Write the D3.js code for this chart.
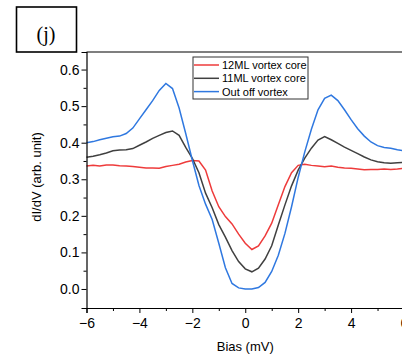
<!DOCTYPE html>
<html>
<head>
<meta charset="utf-8">
<script src="https://cdn.jsdelivr.net/npm/d3@7"></script>
<style>
    body { margin: 0; background: #fff; }
    text { font-family: "Liberation Sans", Arial, sans-serif; }
</style>
</head>
<body>
<script>
// bias (mV) grid
var bias = [-6, -5.75, -5.5, -5.25, -5, -4.75, -4.5, -4.25, -4, -3.75, -3.5, -3.25, -3,
    -2.75, -2.5, -2.25, -2, -1.75, -1.5, -1.25, -1, -0.75, -0.5, -0.25, 0,
    0.25, 0.5, 0.75, 1, 1.25, 1.5, 1.75, 2, 2.25, 2.5, 2.75, 3,
    3.25, 3.5, 3.75, 4, 4.25, 4.5, 4.75, 5, 5.25, 5.5, 5.75, 6];

var core12 = [0.336, 0.338, 0.336, 0.339, 0.339, 0.337, 0.336, 0.335, 0.333, 0.331, 0.331, 0.330, 0.335,
    0.338, 0.341, 0.347, 0.351, 0.350, 0.325, 0.268, 0.225, 0.198, 0.178, 0.150, 0.125,
    0.108, 0.118, 0.145, 0.180, 0.230, 0.280, 0.318, 0.338, 0.341, 0.338, 0.336, 0.334,
    0.336, 0.333, 0.331, 0.330, 0.328, 0.326, 0.327, 0.327, 0.328, 0.327, 0.328, 0.330];

var core11 = [0.360, 0.363, 0.367, 0.372, 0.378, 0.380, 0.381, 0.384, 0.393, 0.402, 0.412, 0.420, 0.428,
    0.432, 0.420, 0.387, 0.357, 0.318, 0.262, 0.222, 0.176, 0.142, 0.105, 0.075, 0.055,
    0.047, 0.057, 0.082, 0.118, 0.175, 0.230, 0.282, 0.325, 0.358, 0.385, 0.407, 0.417,
    0.408, 0.398, 0.388, 0.379, 0.370, 0.361, 0.353, 0.348, 0.345, 0.344, 0.345, 0.346];

var outside = [0.400, 0.403, 0.408, 0.412, 0.416, 0.418, 0.425, 0.440, 0.465, 0.490, 0.515, 0.543, 0.562,
    0.548, 0.495, 0.425, 0.352, 0.283, 0.232, 0.190, 0.125, 0.058, 0.015, 0.003, 0.000,
    0.000, 0.004, 0.018, 0.048, 0.092, 0.152, 0.225, 0.305, 0.375, 0.437, 0.490, 0.521,
    0.530, 0.515, 0.490, 0.463, 0.438, 0.418, 0.402, 0.392, 0.387, 0.385, 0.381, 0.378];

var seriesNames = ["12ML vortex core", "11ML vortex core", "Out off vortex"];
var seriesColors = ["#ee3b3b", "#404040", "#2f78e0"];
var xTicks = [-6, -4, -2, 0, 2, 4, 6];
var yTicks = [0, 0.1, 0.2, 0.3, 0.4, 0.5, 0.6];

var width = 402, height = 360;
var margins = {top: 52, left: 86.5, right: -2, bottom: 52};

var svg = d3.select("body").append("svg")
    .attr("width", width)
    .attr("height", height);

var x = d3.scaleLinear().domain([-6, 6]).range([margins.left, width - margins.right]);
var y = d3.scaleLinear().domain([-0.052, 0.648]).range([height - margins.bottom, margins.top]);

// panel label
svg.append("rect")
    .attr("x", 16.5).attr("y", 7).attr("width", 60).attr("height", 45)
    .attr("fill", "none").attr("stroke", "#000").attr("stroke-width", 1.6);
svg.append("text")
    .attr("x", 46).attr("y", 41)
    .attr("text-anchor", "middle")
    .style("font-family", "'Liberation Serif', 'Times New Roman', serif")
    .style("font-size", "20px")
    .text("(j)");

// curves
var line = d3.line()
    .x(function (d) { return x(d[0]); })
    .y(function (d) { return y(d[1]); });

var plotG = svg.append("g");
[core12, core11, outside].forEach(function (vals, i) {
    plotG.append("path")
        .datum(bias.map(function (b, j) { return [b, vals[j]]; }))
        .attr("fill", "none")
        .attr("stroke", seriesColors[i])
        .attr("stroke-width", 1.5)
        .attr("d", line);
});

// axes
var xAxis = svg.append("g")
    .attr("transform", "translate(0," + (height - margins.bottom) + ")")
    .call(d3.axisBottom(x).tickValues(xTicks).tickSize(5).tickFormat(d3.format("d")));
svg.append("g")
    .attr("transform", "translate(0," + (height - margins.bottom) + ")")
    .call(d3.axisBottom(x).tickValues(d3.range(-5, 6, 2)).tickSize(3).tickFormat(""))
    .select(".domain").remove();

var yAxis = svg.append("g")
    .attr("transform", "translate(" + margins.left + ",0)")
    .call(d3.axisLeft(y).tickValues(yTicks).tickSize(5).tickFormat(d3.format(".1f")));
svg.append("g")
    .attr("transform", "translate(" + margins.left + ",0)")
    .call(d3.axisLeft(y).tickValues([0.05, 0.15, 0.25, 0.35, 0.45, 0.55]).tickSize(3).tickFormat(""))
    .select(".domain").remove();

svg.selectAll(".domain").attr("stroke-width", 1.2);
svg.selectAll(".tick line").attr("stroke-width", 1);
xAxis.selectAll(".tick text").style("font-size", "14px").attr("dy", "0.85em");
yAxis.selectAll(".tick text").style("font-size", "14px").attr("x", -7);

// top frame line
svg.append("line")
    .attr("x1", margins.left).attr("x2", width - margins.right)
    .attr("y1", margins.top).attr("y2", margins.top)
    .attr("stroke", "#000").attr("stroke-width", 1.2);

// axis titles
svg.append("text")
    .attr("x", x(0)).attr("y", 351)
    .attr("text-anchor", "middle")
    .style("font-size", "13px")
    .text("Bias (mV)");
svg.append("text")
    .attr("transform", "translate(41,177) rotate(-90)")
    .attr("text-anchor", "middle")
    .style("font-size", "13px")
    .text("dI/dV (arb. unit)");

// legend
var legend = svg.append("g").attr("transform", "translate(193,57)");
legend.append("rect")
    .attr("width", 115).attr("height", 42)
    .attr("fill", "#fff").attr("stroke", "#333").attr("stroke-width", 1);
seriesNames.forEach(function (name, i) {
    var ly = 8 + i * 13.3;
    legend.append("line")
        .attr("x1", 1).attr("x2", 26).attr("y1", ly).attr("y2", ly)
        .attr("stroke", seriesColors[i]).attr("stroke-width", 1.5);
    legend.append("text")
        .attr("x", 29).attr("y", ly + 4)
        .style("font-size", "11px")
        .text(name);
});
</script>
</body>
</html>
